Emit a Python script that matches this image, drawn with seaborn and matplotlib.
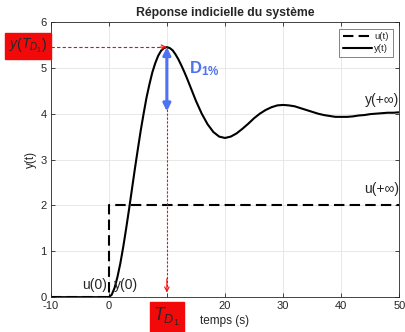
import matplotlib
matplotlib.use("Agg")
import matplotlib.pyplot as plt
import seaborn as sns
import pandas as pd

# ---- data ----
t_y = [-10, 0, 0.5, 1, 1.5, 2, 2.5, 3, 3.5, 4, 4.5, 5, 5.5, 6, 6.5, 7, 7.5, 8, 8.5, 9, 9.5,
       10, 10.5, 11, 11.5, 12, 12.5, 13, 13.5, 14, 14.5, 15, 16, 17, 18, 19, 20,
       21, 22, 23, 24, 25, 26, 27, 28, 29, 30, 31, 32, 33, 34, 35, 36, 37, 38, 39, 40,
       41, 42, 43, 44, 45, 46, 47, 48, 49, 50]
y_vals = [0.0, 0.0, 0.05, 0.20, 0.44, 0.74, 1.10, 1.50, 1.92, 2.36, 2.80, 3.22, 3.63, 4.00,
          4.35, 4.64, 4.90, 5.10, 5.26, 5.37, 5.43, 5.45, 5.43, 5.38, 5.29, 5.18, 5.05,
          4.91, 4.76, 4.60, 4.44, 4.28, 4.00, 3.77, 3.60, 3.50, 3.47, 3.50, 3.57, 3.67,
          3.78, 3.90, 4.00, 4.08, 4.14, 4.18, 4.19, 4.18, 4.16, 4.12, 4.08, 4.04, 4.00,
          3.97, 3.95, 3.93, 3.93, 3.93, 3.94, 3.96, 3.97, 3.99, 4.00, 4.01, 4.02, 4.02, 4.03]
t_u = [-10, 0, 0, 50]
u_vals = [0, 0, 2, 2]

t_peak = 10
y_peak = 5.45
y_final = 4.0
u_final = 2.0

x_ticks = [-10, 0, 10, 20, 30, 40, 50]
# the "10" label is hidden behind the red T_D1 box in the reference
x_ticklabels = ["-10", "0", "", "20", "30", "40", "50"]
y_ticks = [0, 1, 2, 3, 4, 5, 6]

sns.set_style("whitegrid")
plt.rcParams['font.family'] = ['Liberation Sans', 'DejaVu Sans']
plt.rcParams['axes.unicode_minus'] = False
plt.rcParams['mathtext.fontset'] = 'custom'
plt.rcParams['mathtext.rm'] = 'Liberation Sans'
plt.rcParams['mathtext.it'] = 'Liberation Sans:italic'
plt.rcParams['mathtext.bf'] = 'Liberation Sans:bold'

fig = plt.figure(figsize=(4.05, 3.32), dpi=100)
ax = fig.add_axes([0.125, 0.105, 0.861, 0.829])

df_u = pd.DataFrame({"t": t_u, "v": u_vals})
df_y = pd.DataFrame({"t": t_y, "v": y_vals})

sns.lineplot(data=df_u, x="t", y="v", ax=ax, color="black", lw=1.5,
             estimator=None, sort=False, label="u(t)", dashes=False,
             linestyle=(0, (5, 2.5)))
sns.lineplot(data=df_y, x="t", y="v", ax=ax, color="black", lw=1.5,
             estimator=None, sort=False, label="y(t)")

ax.set_xlim(-10, 50)
ax.set_ylim(0, 6)
ax.set_xticks(x_ticks)
ax.set_xticklabels(x_ticklabels)
ax.set_yticks(y_ticks)
ax.grid(True, color="#e4e4e4", lw=0.6)
for s in ax.spines.values():
    s.set_color("#262626")
    s.set_linewidth(0.6)
ax.tick_params(direction="in", length=3, width=0.6, colors="#262626",
               labelsize=8, top=True, right=True, bottom=True, left=True, pad=3)
ax.set_xlabel("temps (s)", fontsize=8.5, color="#262626", labelpad=3)
ax.set_ylabel("y(t)", fontsize=8.5, color="#262626", labelpad=2)
ax.set_title("Réponse indicielle du système", fontsize=8.8, fontweight="bold", pad=4)

leg = ax.legend(loc="upper right", fontsize=6.8, handlelength=3.0, frameon=True,
                fancybox=False, edgecolor="#262626", borderpad=0.4,
                labelspacing=0.3, handletextpad=0.3, borderaxespad=0.7)
leg.get_frame().set_linewidth(0.5)

red = "#f20a0a"
# horizontal red dashed arrow to the peak
ax.plot([-10, t_peak - 0.4], [y_peak, y_peak], color=red, lw=0.8, ls=(0, (3, 2)))
ax.annotate("", xy=(t_peak, y_peak), xytext=(t_peak - 1.2, y_peak),
            arrowprops=dict(arrowstyle="->", color=red, lw=0.8,
                            mutation_scale=8, shrinkA=0, shrinkB=0))
# vertical red dotted arrow down to the time axis
ax.plot([t_peak, t_peak], [y_peak, 0.2], color=red, lw=0.8, ls=(0, (2, 1.5)))
ax.annotate("", xy=(t_peak, 0.1), xytext=(t_peak, 0.4),
            arrowprops=dict(arrowstyle="->", color=red, lw=0.8,
                            mutation_scale=8, shrinkA=0, shrinkB=0))
# blue double arrow for overshoot
blue = "#4d72f2"
ax.annotate("", xy=(t_peak, y_final + 0.05), xytext=(t_peak, y_peak),
            arrowprops=dict(arrowstyle="<|-|>", color=blue, lw=2.2,
                            mutation_scale=11, shrinkA=0, shrinkB=0))
ax.text(t_peak + 3.8, 4.98, r"$\mathbf{D_{1\%}}$", color=blue, fontsize=12,
        ha="left", va="center")

ax.text(50, y_final + 0.3, "y(+∞)", fontsize=10, ha="right", va="center")
ax.text(50, u_final + 0.35, "u(+∞)", fontsize=10, ha="right", va="center")
ax.text(-0.3, 0.27, "u(0)", fontsize=10, ha="right", va="center")
ax.text(0.9, 0.27, "y(0)", fontsize=10, ha="left", va="center")

fig.text(28 / 405, 1 - 46 / 332, r"$y\left(T_{D_1}\right)$", fontsize=10,
         ha="center", va="center", zorder=10,
         bbox=dict(boxstyle="square,pad=0.25", fc=red, ec=red))
fig.text(166.7 / 405, 1 - 317 / 332, r"$T_{D_1}$", fontsize=13,
         ha="center", va="center", zorder=10,
         bbox=dict(boxstyle="square,pad=0.2", fc=red, ec=red))

fig.savefig("out.png", dpi=100)
